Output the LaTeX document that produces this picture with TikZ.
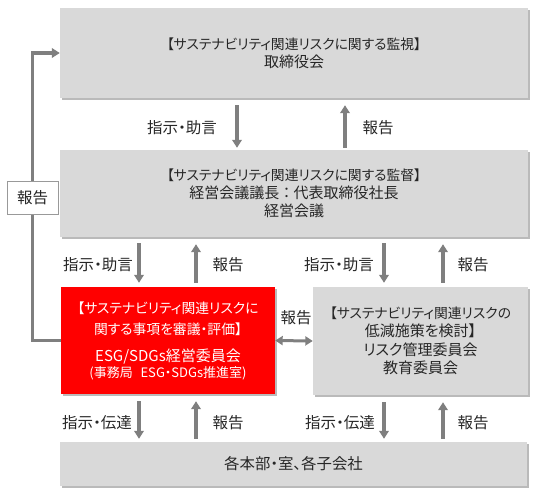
\documentclass[tikz,border=0pt]{standalone}
\usepackage{fontspec}
\setmainfont{Noto Sans CJK JP}[RawFeature=+palt]
\usetikzlibrary{positioning,arrows.meta,shadows}
\definecolor{boxgray}{HTML}{D9D9D9}
\definecolor{arrgray}{HTML}{7F7F7F}
\definecolor{esgred}{HTML}{FF0000}
\definecolor{txt}{HTML}{262626}
\newcommand\hdsize{\fontsize{13.8}{17.5}\selectfont}

\begin{document}
\begin{tikzpicture}[x=1pt, y=-1pt,
  box/.style={rectangle, fill=boxgray, align=center, text=txt, inner sep=0pt, font=\fontsize{15}{18}\selectfont,
    drop shadow={shadow xshift=1.5pt, shadow yshift=-1.5pt, fill=black!45, opacity=0.6}},
  redbox/.style={box, fill=esgred, text=white, font=\fontsize{15}{20.5}\selectfont},
  lbl/.style={text=txt, inner sep=0pt, font=\fontsize{15.5}{17}\selectfont},
  tag/.style={lbl, draw=arrgray!80, fill=white, line width=0.8pt, minimum width=51pt, minimum height=33pt},
  arr/.style={draw=arrgray, line width=3.2pt, -{Triangle[width=9.5pt,length=8pt]}},
  arrboth/.style={draw=arrgray, line width=3pt, {Triangle[width=9pt,length=7.5pt]}-{Triangle[width=9pt,length=7.5pt]}}]
\useasboundingbox (0,0) rectangle (537,496);
\node[box, minimum width=468pt, minimum height=90pt] (board) at (294,53) {{\hdsize 【サステナビリティ関連リスクに関する監視】}\\取締役会};
\node[box, minimum width=468pt, minimum height=87pt] (mgmt) at (294,193.5) {{\hdsize 【サステナビリティ関連リスクに関する監督】}\\経営会議議長 ： 代表取締役社長\\経営会議};
\node[redbox, minimum width=214pt, minimum height=107pt] (esg) at (168,340.5) {\hspace{0pt}\\[-8pt]{\hdsize 【サステナビリティ関連リスクに}\\{\hdsize 関する事項を審議・評価】}\\[7pt]ESG/SDGs経営委員会\\[-5pt]{\fontsize{13}{15}\selectfont (事務局\hspace{0.6em}ESG・SDGs推進室)}};
\node[box, minimum width=215pt, minimum height=108pt, font=\fontsize{15}{18.5}\selectfont] (risk) at (420.5,341) {{\hdsize 【サステナビリティ関連リスクの}\\低減施策を検討】\\リスク管理委員会\\教育委員会};
\node[box, minimum width=467pt, minimum height=44pt, font=\fontsize{15.4}{18}\selectfont] (units) at (293.5,464) {各本部・室、各子会社};
% board <-> management
\draw[arr, shorten <=7pt, shorten >=2pt] ([xshift=-57pt]board.south) -- ([xshift=-57pt]mgmt.north);
\draw[arr, shorten <=2pt, shorten >=7pt] ([xshift=51pt]mgmt.north) -- ([xshift=51pt]board.south);
\node[lbl] (ad1) at (182,128) {指示・助言};
\node[lbl] (rp1) at (378,128) {報告};
% management <-> committees
\draw[arr, shorten <=6pt, shorten >=4pt] ([xshift=-29pt]esg.north |- mgmt.south) -- ([xshift=-29pt]esg.north);
\draw[arr, shorten <=4pt, shorten >=7pt] ([xshift=28pt]esg.north) -- ([xshift=28pt]esg.north |- mgmt.south);
\draw[arr, shorten <=6pt, shorten >=4pt] ([xshift=-36.5pt]risk.north |- mgmt.south) -- ([xshift=-36.5pt]risk.north);
\draw[arr, shorten <=4pt, shorten >=7pt] ([xshift=22.5pt]risk.north) -- ([xshift=22.5pt]risk.north |- mgmt.south);
\node[lbl] (ad2) at (98,265) {指示・助言};
\node[lbl] (rp2) at (228,265) {報告};
\node[lbl] (ad3) at (339,265) {指示・助言};
\node[lbl] (rp3) at (473,265) {報告};
% committees <-> units
\draw[arr, shorten <=7pt, shorten >=3pt] ([xshift=-29pt]esg.south) -- ([xshift=-29pt]esg.south |- units.north);
\draw[arr, shorten <=3pt, shorten >=7pt] ([xshift=28pt]esg.south |- units.north) -- ([xshift=28pt]esg.south);
\draw[arr, shorten <=7pt, shorten >=3pt] ([xshift=-36.5pt]risk.south) -- ([xshift=-36.5pt]risk.south |- units.north);
\draw[arr, shorten <=3pt, shorten >=7pt] ([xshift=22.5pt]risk.south |- units.north) -- ([xshift=22.5pt]risk.south);
\node[lbl] (ad4) at (97,423) {指示・伝達};
\node[lbl] (rp4) at (228,423) {報告};
\node[lbl] (ad5) at (340,423) {指示・伝達};
\node[lbl] (rp5) at (473,423) {報告};
% esg <-> risk
\draw[arrboth] (esg.east) -- (risk.west);
\node[lbl] (rp6) at (296,318) {報告};
% report straight to the board
\draw[arr] (esg.west) -- ++(-28,0) |- (board.west);
\node[tag] (fb) at (32.5,197.5) {報告};
\end{tikzpicture}
\end{document}
